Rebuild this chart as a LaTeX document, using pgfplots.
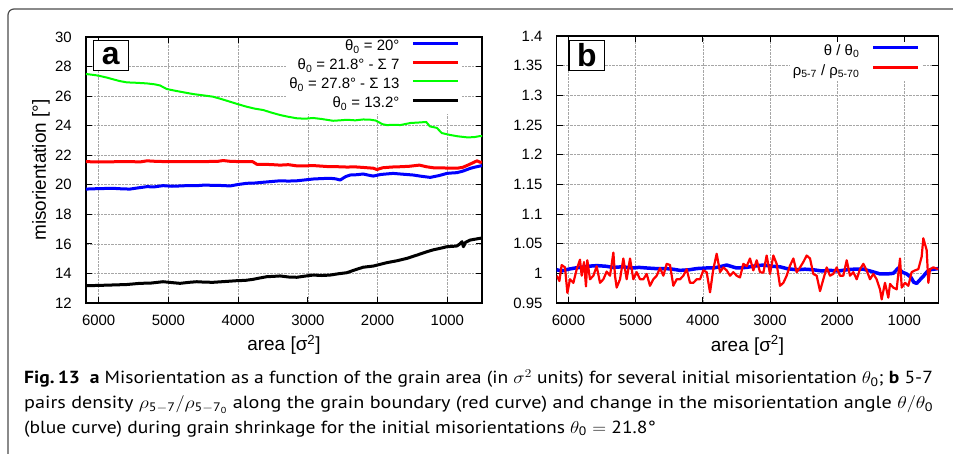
\documentclass[border=0pt]{standalone}
\usepackage{amsmath}
\usepackage{graphicx}
\usepackage{fontspec}
\setmainfont{Liberation Sans}
\newfontfamily\capfont{PT Sans}
\usepackage{pgfplots}
\pgfplotsset{compat=1.18}

\definecolor{gpblue}{RGB}{0,0,255}
\definecolor{gpred}{RGB}{255,0,0}
\definecolor{gpgreen}{RGB}{0,255,0}

\pgfplotsset{
  gp/.style={
    scale only axis,
    x dir=reverse,
    axis line style={black, line width=1.1bp},
    tick style={black, line width=0.8bp},
    major tick length=6bp,
    grid=major,
    major grid style={gray!70, densely dotted, line width=0.6bp},
    xtick={1000,2000,3000,4000,5000,6000},
    /pgf/number format/assume math mode=true,
    /pgf/number format/1000 sep={},
    ticklabel style={font=\fontsize{15}{15}\selectfont},
    xticklabel style={inner sep=0bp, anchor=north, yshift=-12bp},
    yticklabel style={inner sep=0bp, anchor=east, xshift=-14bp},
    label style={font=\fontsize{19}{19}\selectfont},
    xlabel style={at={(axis description cs:0.5,-0.18)}, anchor=base},
    xlabel={area [σ\textsuperscript{2}]},
    legend style={draw=none, fill=white, font=\fontsize{15}{15}\selectfont,
      inner xsep=3bp, inner ysep=2bp, row sep=4bp, column sep=12bp,
      nodes={inner sep=0bp, text height=11bp, text depth=4bp}},
    legend plot pos=right,
    legend cell align=right,
    legend image code/.code={\draw[##1] (0bp,4bp) -- (45bp,4bp);},
    every axis plot/.append style={line join=round},
  },
}
\tikzset{
  tag/.style={draw=black, line width=1.2bp, fill=white, inner sep=0bp,
    minimum width=35bp, minimum height=30bp, anchor=north west,
    font=\fontsize{32}{32}\selectfont\bfseries},
}
\newcommand\capsize{\capfont\fontsize{17.6}{22}\selectfont}
\newsavebox\capA

\begin{document}
\sbox\capA{\capsize{\bfseries Fig.\,13}\hspace{0.5em}{\bfseries a} Misorientation as a function of the grain area (in $\sigma^2$ units) for several initial misorientation $\theta_{\text{0}}$; {\bfseries b} 5-7}%
\pgfmathsetmacro\capsx{912.13/\wd\capA}%
\begin{tikzpicture}
\useasboundingbox (0,0) rectangle (953bp,454bp);
\clip (0,0) rectangle (953bp,454bp);
\draw[gray!60!black, line width=1.2bp, rounded corners=6bp] (8bp,-20bp) rectangle (990bp,445bp);

% panel a
\begin{axis}[gp,
  at={(86bp,151bp)}, anchor=south west,
  width=396bp, height=266bp,
  xmin=503, xmax=6182,
  ymin=12, ymax=30,
  ytick={12,14,16,18,20,22,24,26,28,30},
  ylabel={misorientation [°]},
  ylabel style={at={(axis description cs:-0.1136,0.5)}, anchor=center},
  legend style={at={(rel axis cs:0.951,0.998)}, anchor=north east},
]
\addplot[gpblue, line width=3bp] coordinates {
(6182,19.72)(6172,19.71)(6000,19.74)(5795,19.76)(5650,19.72)(5551,19.71)(5420,19.80)
(5311,19.87)(5200,19.86)(5077,19.94)(4950,19.90)(4833,19.92)(4700,19.95)(4593,19.94)
(4480,19.98)(4360,19.96)(4230,19.95)(4116,19.92)(4000,20.02)(3876,20.10)(3760,20.12)
(3642,20.17)(3520,20.22)(3398,20.27)(3280,20.25)(3158,20.27)(3040,20.33)(2925,20.39)
(2800,20.42)(2681,20.44)(2600,20.40)(2537,20.32)(2460,20.55)(2394,20.66)(2300,20.68)
(2207,20.73)(2130,20.65)(2063,20.59)(1950,20.70)(1777,20.77)(1650,20.72)(1490,20.66)
(1380,20.58)(1246,20.50)(1120,20.62)(1006,20.77)(930,20.80)(862,20.82)(780,20.92)
(672,21.11)(600,21.20)(528,21.27)(503,21.30)};
\addlegendentry{θ\textsubscript{0} = 20°}
\addplot[gpred, line width=3bp] coordinates {
(6182,21.56)(6172,21.56)(5900,21.55)(5600,21.57)(5400,21.55)(5307,21.62)(5163,21.58)
(4900,21.56)(4546,21.57)(4300,21.58)(4216,21.64)(4100,21.58)(3960,21.57)(3790,21.56)
(3730,21.38)(3600,21.38)(3500,21.36)(3398,21.33)(3280,21.36)(3158,21.28)(3040,21.28)
(2925,21.30)(2800,21.26)(2681,21.22)(2560,21.22)(2441,21.20)(2320,21.21)(2200,21.17)
(2060,21.12)(2010,21.03)(1930,21.15)(1800,21.20)(1680,21.22)(1550,21.25)(1400,21.33)
(1300,21.22)(1200,21.15)(1100,21.15)(1006,21.13)(862,21.12)(780,21.18)(719,21.30)
(628,21.50)(575,21.62)(528,21.52)(503,21.55)};
\addlegendentry{θ\textsubscript{0} = 21.8° - Σ 7}
\addplot[gpgreen, line width=2bp] coordinates {
(6182,27.50)(6172,27.49)(6050,27.42)(5981,27.36)(5880,27.25)(5795,27.14)(5700,27.02)
(5598,26.93)(5450,26.90)(5311,26.86)(5200,26.80)(5120,26.72)(5024,26.48)(4920,26.38)
(4833,26.30)(4647,26.14)(4500,26.05)(4360,25.96)(4240,25.80)(4116,25.62)(4000,25.45)
(3876,25.28)(3760,25.15)(3642,25.06)(3520,24.88)(3398,24.72)(3280,24.60)(3158,24.50)
(3040,24.47)(2925,24.52)(2800,24.45)(2638,24.33)(2540,24.36)(2441,24.40)(2320,24.36)
(2207,24.42)(2100,24.40)(2030,24.35)(1930,24.10)(1867,24.04)(1750,24.06)(1676,24.04)
(1530,24.18)(1389,24.22)(1303,24.25)(1250,23.95)(1150,23.85)(1080,23.50)(959,23.37)
(850,23.28)(719,23.21)(620,23.22)(528,23.30)(503,23.30)};
\addlegendentry{θ\textsubscript{0} = 27.8° - Σ 13}
\addplot[black, line width=3bp] coordinates {
(6182,13.17)(6172,13.17)(6000,13.19)(5795,13.22)(5600,13.25)(5407,13.33)(5250,13.35)
(5077,13.44)(4950,13.38)(4833,13.33)(4700,13.40)(4593,13.44)(4480,13.41)(4360,13.40)
(4200,13.45)(4019,13.51)(3900,13.53)(3786,13.60)(3680,13.70)(3589,13.78)(3500,13.80)
(3398,13.83)(3280,13.76)(3158,13.74)(3040,13.82)(2925,13.89)(2800,13.86)(2681,13.89)
(2560,13.98)(2441,14.05)(2320,14.25)(2207,14.42)(2063,14.50)(1960,14.62)(1867,14.73)
(1720,14.86)(1580,15.02)(1430,15.25)(1293,15.47)(1200,15.60)(1102,15.70)(1006,15.81)
(930,15.83)(862,15.86)(820,16.00)(790,16.15)(770,15.81)(740,16.10)(672,16.26)
(600,16.32)(528,16.38)(503,16.40)};
\addlegendentry{θ\textsubscript{0} = 13.2°}
\node[tag] at (rel axis cs:0.0169,0.9887) {a};
\end{axis}

% panel b
\begin{axis}[gp,
  at={(556.7bp,151bp)}, anchor=south west,
  width=381.6bp, height=267bp,
  xmin=494, xmax=6176,
  ymin=0.95, ymax=1.4,
  ytick={0.95,1,1.05,1.1,1.15,1.2,1.25,1.3,1.35,1.4},
  legend style={at={(rel axis cs:0.96,0.978)}, anchor=north east, row sep=5bp},
]
\addplot[gpblue, line width=3.5bp] coordinates {
(6176,1.006)(6100,1.004)(6000,1.007)(5900,1.009)(5829,1.010)(5700,1.012)(5581,1.013)
(5450,1.012)(5332,1.010)(5200,1.011)(5050,1.009)(4950,1.010)(4836,1.009)(4700,1.008)
(4550,1.008)(4450,1.007)(4340,1.005)(4200,1.006)(4092,1.008)(3950,1.009)(3844,1.009)
(3750,1.011)(3645,1.014)(3500,1.009)(3347,1.010)(3250,1.012)(3099,1.014)(2980,1.012)
(2851,1.011)(2750,1.008)(2603,1.006)(2480,1.007)(2355,1.006)(2230,1.004)(2107,1.005)
(1980,1.004)(1858,1.006)(1750,1.007)(1610,1.007)(1480,1.003)(1362,0.999)(1250,0.999)
(1164,1.000)(1089,1.009)(1030,1.002)(965,0.999)(900,0.993)(860,0.985)(816,0.983)
(760,0.990)(717,0.995)(660,1.003)(618,1.006)(560,1.007)(494,1.008)};
\addlegendentry{θ / θ\textsubscript{0}}
\addplot[gpred, line width=2.2bp] coordinates {
(6176,0.996)(6136,0.987)(6102,1.014)(6052,1.010)(6017,0.967)(5978,0.990)(5928,0.984)
(5878,1.007)(5829,1.023)(5804,0.996)(5769,1.019)(5740,0.978)(5720,1.022)(5680,0.990)
(5630,0.996)(5581,1.012)(5531,0.984)(5481,0.990)(5432,1.003)(5382,0.996)(5332,1.035)
(5308,0.996)(5283,0.976)(5233,0.990)(5184,1.025)(5134,0.990)(5084,1.025)(5035,0.990)
(4985,1.002)(4935,0.990)(4886,0.990)(4836,0.999)(4787,0.979)(4737,0.990)(4687,0.996)
(4638,1.009)(4588,0.996)(4538,1.016)(4489,1.014)(4439,0.979)(4390,0.990)(4340,0.990)
(4290,0.996)(4241,1.007)(4191,0.984)(4141,0.984)(4092,0.990)(4042,0.990)(3993,1.005)
(3943,1.002)(3893,0.968)(3844,1.007)(3794,1.033)(3744,1.002)(3695,1.010)(3645,1.005)
(3595,0.996)(3546,1.002)(3496,0.996)(3447,0.993)(3397,1.016)(3347,1.012)(3298,1.025)
(3248,1.005)(3198,1.022)(3149,1.002)(3099,1.001)(3050,1.030)(3000,0.999)(2950,1.030)
(2901,1.016)(2851,0.979)(2801,0.984)(2752,0.996)(2702,1.013)(2652,1.025)(2603,1.002)
(2553,1.010)(2504,1.019)(2454,1.030)(2404,1.025)(2355,0.999)(2305,0.996)(2255,0.970)
(2206,0.990)(2156,1.010)(2107,0.996)(2057,0.999)(2007,1.010)(1958,0.996)(1908,0.996)
(1858,1.022)(1809,0.996)(1759,1.002)(1709,0.990)(1660,1.007)(1610,1.016)(1561,1.005)
(1511,0.990)(1461,0.999)(1412,0.990)(1362,0.973)(1337,0.956)(1288,0.984)(1238,0.959)
(1213,0.982)(1164,0.976)(1114,0.973)(1064,1.025)(1039,0.976)(990,0.984)(940,0.979)
(891,1.002)(841,1.005)(791,1.007)(742,1.028)(717,1.059)(667,1.039)(642,0.984)
(618,1.007)(568,1.010)(494,1.007)};
\addlegendentry{ρ\textsubscript{5-7} / ρ\textsubscript{5-70}}
\node[tag, minimum width=35.7bp] at (rel axis cs:0.0304,0.985) {b};
\end{axis}

% caption
\begin{scope}[every node/.style={anchor=base west, inner sep=0bp}]
\node at (24bp,70bp) {\scalebox{\capsx}[1]{\usebox\capA}};
\node at (24bp,45.5bp) {\resizebox{909bp}{\height}{\capsize pairs density $\rho_{\text{5}-\text{7}}/\rho_{\text{5}-\text{7}_{\text{0}}}$ along the grain boundary (red curve) and change in the misorientation angle $\theta/\theta_{\text{0}}$}};
\node at (24bp,21bp) {\scalebox{\capsx}[1]{\capsize (blue curve) during grain shrinkage for the initial misorientations $\theta_{\text{0}} = \text{21.8°}$}};
\end{scope}
\end{tikzpicture}
\end{document}
